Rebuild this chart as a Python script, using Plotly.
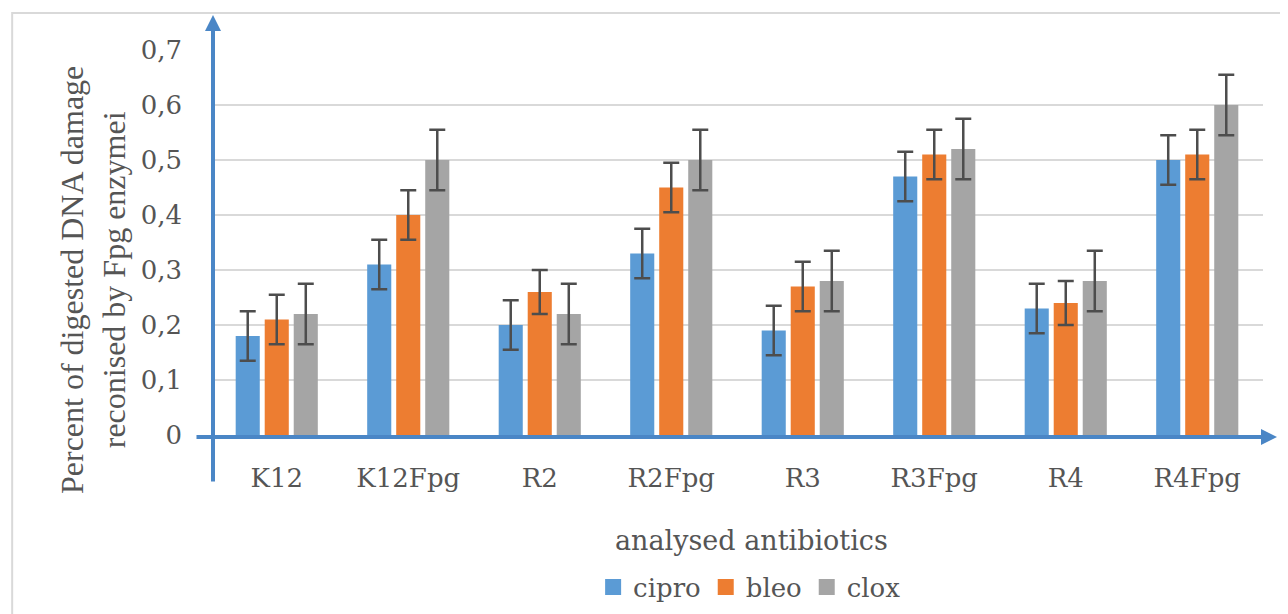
import plotly.graph_objects as go

categories = ["K12", "K12Fpg", "R2", "R2Fpg", "R3", "R3Fpg", "R4", "R4Fpg"]
cipro = [0.18, 0.31, 0.20, 0.33, 0.19, 0.47, 0.23, 0.50]
bleo = [0.21, 0.40, 0.26, 0.45, 0.27, 0.51, 0.24, 0.51]
clox = [0.22, 0.50, 0.22, 0.50, 0.28, 0.52, 0.28, 0.60]
cipro_err = [0.045, 0.045, 0.045, 0.045, 0.045, 0.045, 0.045, 0.045]
bleo_err = [0.045, 0.045, 0.040, 0.045, 0.045, 0.045, 0.040, 0.045]
clox_err = [0.055, 0.055, 0.055, 0.055, 0.055, 0.055, 0.055, 0.055]
y_tickvals = [0, 0.1, 0.2, 0.3, 0.4, 0.5, 0.6, 0.7]
y_ticktext = ["0", "0,1", "0,2", "0,3", "0,4", "0,5", "0,6", "0,7"]

FONT = "DejaVu Serif"
TFONT = "Liberation Serif"
TXT = "#555555"
AXIS_BLUE = "#4a86c6"
series = [("cipro", cipro, cipro_err, "#5b9bd5"),
          ("bleo", bleo, bleo_err, "#ed7d31"),
          ("clox", clox, clox_err, "#a5a5a5")]

fig = go.Figure()
for name, vals, errs, col in series:
    fig.add_trace(go.Bar(
        x=categories, y=vals, name=name, showlegend=False,
        marker=dict(color=col, line=dict(width=0)),
        error_y=dict(type="data", array=errs, visible=True, color="#4d4d4d",
                     thickness=2.5, width=8),
    ))
# legend keys (larger squares than the default bar keys)
for name, vals, errs, col in series:
    fig.add_trace(go.Scatter(
        x=[None], y=[None], mode="markers", name=name,
        marker=dict(symbol="square", size=20, color=col),
    ))

fig.update_layout(
    width=1280, height=606,
    margin=dict(l=203, r=25, t=42, b=179, autoexpand=False),
    paper_bgcolor="white", plot_bgcolor="white",
    barmode="group", bargap=0.338, bargroupgap=0.17,
    font=dict(family=FONT, color=TXT, size=22),
    showlegend=True,
    legend=dict(orientation="h", x=0.512, xanchor="center", y=-0.395, yanchor="middle",
                font=dict(family=FONT, size=26, color=TXT), itemwidth=30,
                itemsizing="trace", traceorder="normal"),
    xaxis=dict(showgrid=False, showline=False, zeroline=False, ticks="",
               tickfont=dict(family=FONT, size=26, color=TXT), ticklabelstandoff=25),
    yaxis=dict(range=[0, 0.7], tickvals=y_tickvals, ticktext=y_ticktext,
               showgrid=True, gridcolor="#d9d9d9", gridwidth=2,
               zeroline=False, showline=False, ticks="",
               tickfont=dict(family=FONT, size=26, color=TXT), ticklabelstandoff=28),
)

# outer chart border
fig.add_shape(type="rect", xref="paper", yref="paper", x0=-0.189, x1=1.03,
              y0=-0.6, y1=1.096, line=dict(color="#d9d9d9", width=2), layer="below")

# axis titles
fig.add_annotation(text="Percent of digested DNA damage<br>reconised by Fpg enzymei",
                   xref="paper", yref="paper", x=-0.112, y=0.403, textangle=-90,
                   showarrow=False, xanchor="center", yanchor="middle",
                   font=dict(family=TFONT, size=32, color=TXT))
fig.add_annotation(text="analysed antibiotics", xref="paper", yref="paper",
                   x=0.514, y=-0.273, showarrow=False, xanchor="center", yanchor="middle",
                   font=dict(family=FONT, size=27, color=TXT))

# blue axis arrows
fig.add_annotation(text="", xref="paper", yref="paper", x=0.0019, y=1.091,
                   ax=0, ay=468, axref="pixel", ayref="pixel", showarrow=True,
                   arrowhead=2, arrowsize=0.8, arrowwidth=4, arrowcolor=AXIS_BLUE, standoff=0)
fig.add_annotation(text="", xref="paper", yref="paper", x=1.0133, y=-0.005,
                   ax=-1082, ay=0, axref="pixel", ayref="pixel", showarrow=True,
                   arrowhead=2, arrowsize=0.8, arrowwidth=4, arrowcolor=AXIS_BLUE, standoff=0)

fig.write_html("out.html")
